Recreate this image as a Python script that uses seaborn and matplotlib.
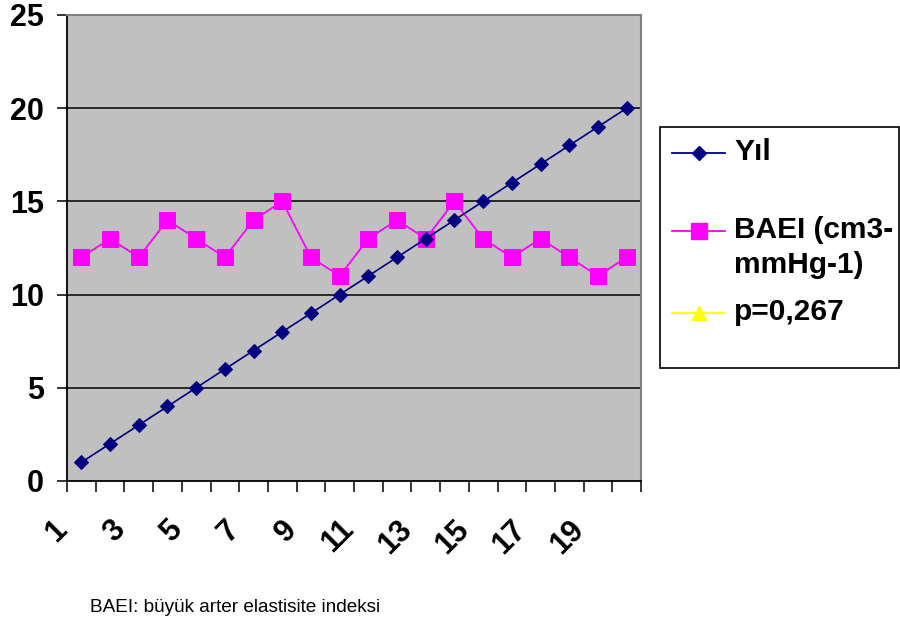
import numpy as np
import pandas as pd
import matplotlib
matplotlib.use("Agg")
import matplotlib.pyplot as plt
from matplotlib.lines import Line2D
from matplotlib.patches import Rectangle
from matplotlib.transforms import ScaledTranslation
import seaborn as sns

# --- data -------------------------------------------------------------
years = list(range(1, 21))
yil = [1, 2, 3, 4, 5, 6, 7, 8, 9, 10, 11, 12, 13, 14, 15, 16, 17, 18, 19, 20]
baei = [12, 13, 12, 14, 13, 12, 14, 15, 12, 11, 13, 14, 13, 15, 13, 12, 13, 12, 11, 12]
x_tick_labels = ["1", "3", "5", "7", "9", "11", "13", "15", "17", "19"]
y_ticks = [0, 5, 10, 15, 20, 25]
series_names = ["Yıl", "BAEI (cm3-\nmmHg-1)", "p=0,267"]
series_colors = ["#000080", "#FF00FF", "#FFFF00"]
series_markers = ["D", "s", "^"]
footnote = "BAEI: büyük arter elastisite indeksi"

df = pd.DataFrame({"x": years, "yil": yil, "baei": baei})

plt.rcParams["font.family"] = ["Liberation Sans", "DejaVu Sans"]

W, H = 900, 625
fig = plt.figure(figsize=(W / 100, H / 100), dpi=100)
ax = fig.add_axes([67 / W, 1 - 481 / H, (641 - 67) / W, (481 - 15) / H])
ax.set_facecolor("#C0C0C0")

sns.lineplot(data=df, x="x", y="yil", ax=ax, color=series_colors[0],
             marker=series_markers[0], markersize=7.5,
             markeredgecolor=series_colors[0], linewidth=1.2, zorder=4)
sns.lineplot(data=df, x="x", y="baei", ax=ax, color=series_colors[1],
             marker=series_markers[1], markersize=11,
             markeredgecolor=series_colors[1], linewidth=1.3, zorder=3)

ax.set_xlim(0.5, 20.5)
ax.set_ylim(0, 25)
ax.set_xlabel("")
ax.set_ylabel("")

# horizontal gridlines
for yv in y_ticks[1:-1]:
    ax.axhline(yv, color="black", linewidth=1.1, zorder=1)

# y axis
ax.set_yticks(y_ticks)
ax.set_yticklabels([str(v) for v in y_ticks], fontsize=22, fontweight="bold")
ax.tick_params(axis="y", length=7.5, width=1.1, pad=9, color="black")

# x axis: ticks at category boundaries, labels at odd categories
ax.set_xticks(np.arange(0.5, 21, 1), minor=True)
ax.tick_params(axis="x", which="minor", length=8, width=1.1, color="black")
ax.set_xticks(years[::2])
ax.set_xticklabels(x_tick_labels, fontsize=22, fontweight="bold",
                   rotation=45, ha="right", va="top")
ax.tick_params(axis="x", which="major", length=0, pad=24)
shift = ScaledTranslation(-0.08, 0, fig.dpi_scale_trans)
for lab in ax.get_xticklabels():
    lab.set_transform(lab.get_transform() + shift)

for side in ["left", "bottom"]:
    ax.spines[side].set_color("black")
    ax.spines[side].set_linewidth(1.3)
for side in ["top", "right"]:
    ax.spines[side].set_color("#808080")
    ax.spines[side].set_linewidth(1.5)


# legend drawn in pixel coordinates of the figure
def fx(x):
    return x / W


def fy(y):
    return 1 - y / H


fig.add_artist(Rectangle((fx(660), fy(368)), fx(899) - fx(660), fy(127) - fy(368),
                         transform=fig.transFigure, facecolor="white",
                         edgecolor="black", linewidth=1.2))
entry_y = [153, 231, 313]
marker_sizes = [7.5, 11, 10]
for name, col, mk, ms, yy in zip(series_names, series_colors, series_markers,
                                  marker_sizes, entry_y):
    fig.add_artist(Line2D([fx(672), fx(725)], [fy(yy), fy(yy)],
                          transform=fig.transFigure, color=col, linewidth=1.3))
    fig.add_artist(Line2D([fx(699)], [fy(yy)], transform=fig.transFigure,
                          marker=mk, markersize=ms, color=col,
                          markeredgecolor=col, linestyle="none"))
    # first text line centred on its handle
    fig.text(fx(734), fy(yy - 15), name, fontsize=21.5, fontweight="bold",
             ha="left", va="top", linespacing=1.32)

fig.text(fx(90), fy(612), footnote, fontsize=13.7, ha="left", va="baseline")

fig.savefig("out.png", dpi=100)
